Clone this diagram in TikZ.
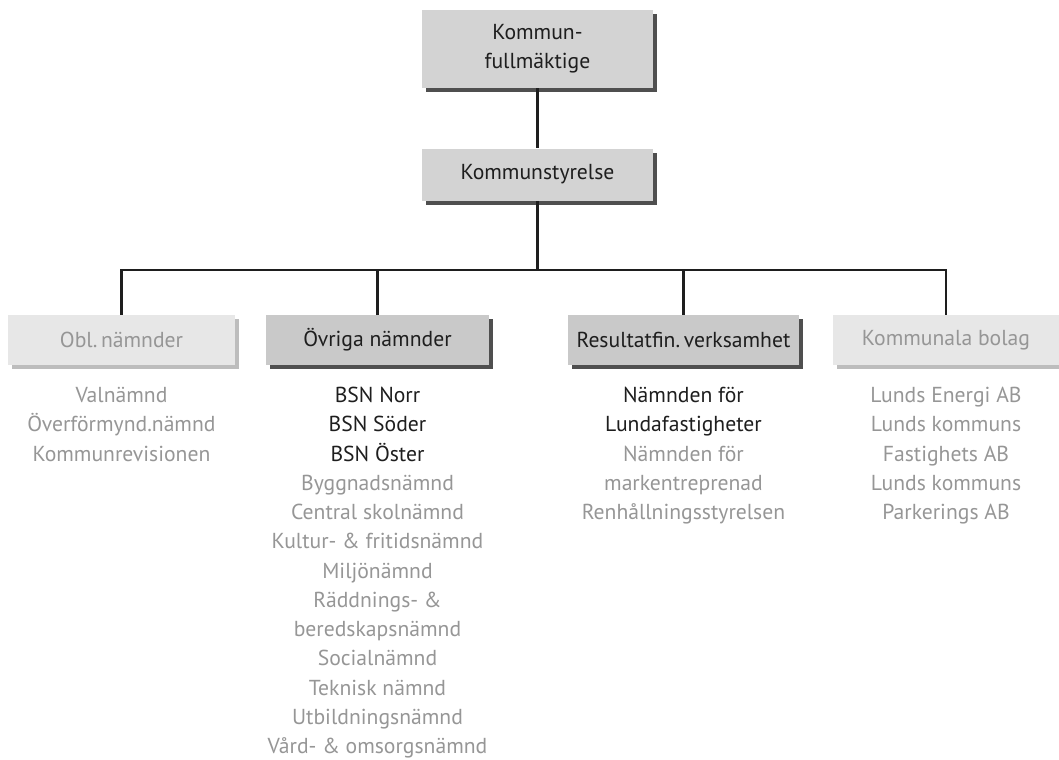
\documentclass[tikz,border=0pt]{standalone}
\usepackage{fontspec}
\setmainfont{PT Sans}
\usetikzlibrary{positioning,shadows}

\definecolor{boxgray}{HTML}{D3D3D3}
\definecolor{boxmid}{HTML}{C9C9C9}
\definecolor{boxlight}{HTML}{E7E7E7}
\definecolor{shadowdark}{HTML}{4F4F4F}
\definecolor{shadowlight}{HTML}{BDBDBD}
\definecolor{textdark}{HTML}{1E1E1E}
\definecolor{textgray}{HTML}{969696}
\newcommand{\dk}{\color{textdark}}

\begin{document}
\begin{tikzpicture}[
    x=0.025cm, y=-0.025cm,
    txt/.style={font=\fontsize{15.4}{20.8}\selectfont},
    box/.style={txt, rectangle, fill=boxgray, text=textdark, align=center,
        minimum width=5.775cm, minimum height=1.3cm,
        general shadow={fill=shadowdark, shadow xshift=0.1cm, shadow yshift=-0.1cm}},
    unitbox/.style={box, fill=boxmid, minimum height=1.25cm},
    palebox/.style={box, fill=boxlight, text=textgray, minimum height=1.25cm,
        general shadow={fill=shadowlight, shadow xshift=0.1cm, shadow yshift=-0.1cm}},
    list/.style={txt, align=center, anchor=north, inner sep=0pt, text=textgray},
    link/.style={draw=textdark, line width=2pt}
]
\useasboundingbox (0,0) rectangle (1059,760);
\clip (0,0) rectangle (1059,760);

% Top of the organisation
\node[box, minimum height=1.95cm] (kf) at (537.5,49) {Kommun-\\fullmäktige};
\node[box, below=1.5cm of kf] (ks) {Kommunstyrelse};

% Second level
\node[palebox, minimum width=5.675cm] (obl) at (121.5,340) {Obl.\,nämnder};
\node[unitbox, minimum width=5.575cm] (ovr) at (377.5,340) {Övriga nämnder};
\node[unitbox, minimum width=5.775cm] (res) at (683.5,340) {Resultatfin.\,verksamhet};
\node[palebox, minimum width=5.65cm] (bol) at (946,340) {Kommunala bolag};

% Lists
\node[list] (oblList) at (121.5,387) {Valnämnd\\Överförmynd.nämnd\\Kommunrevisionen};
\node[list] (ovrList) at (377.5,387) {\dk BSN Norr\\\dk BSN Söder\\\dk BSN Öster\\
    Byggnadsnämnd\\Central skolnämnd\\Kultur- \& fritidsnämnd\\Miljönämnd\\
    Räddnings- \&\\beredskapsnämnd\\Socialnämnd\\Teknisk nämnd\\Utbildningsnämnd\\Vård- \& omsorgsnämnd};
\node[list] (resList) at (683.5,387) {\dk Nämnden för\\\dk Lundafastigheter\\
    Nämnden för\\markentreprenad\\Renhållningsstyrelsen};
\node[list] (bolList) at (946,387) {Lunds Energi AB\\Lunds kommuns\\Fastighets AB\\Lunds kommuns\\Parkerings AB};

% Lines
\coordinate (bar) at (537.5,270);
\draw[link] (kf) -- (ks);
\draw[link] (ks) -- (bar);
\foreach \n in {obl,ovr,res,bol}
    \draw[link] (bar) -| (\n.north);

\end{tikzpicture}
\end{document}
